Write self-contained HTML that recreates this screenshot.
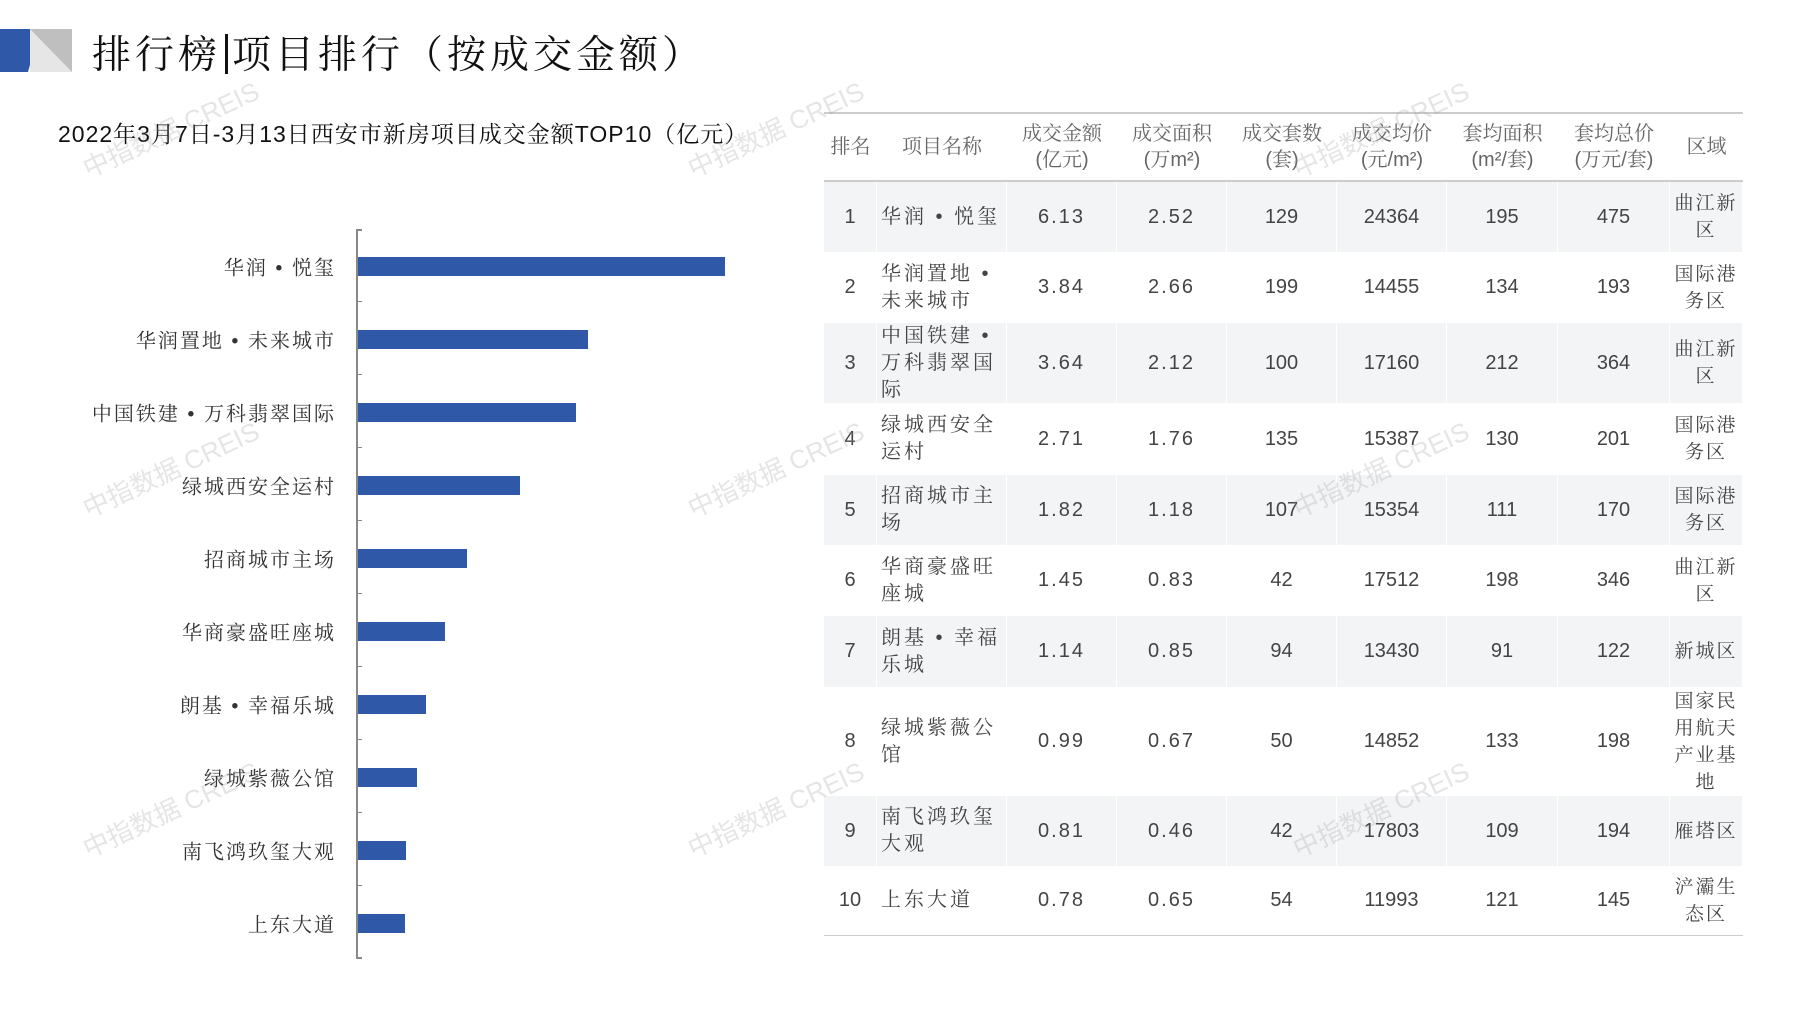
<!DOCTYPE html>
<html><head><meta charset="utf-8"><style>
body{margin:0;width:1797px;height:1010px;background:#fff;position:relative;overflow:hidden;font-family:"Liberation Sans","Noto Serif CJK SC","Noto Sans CJK SC",serif;}
.a{position:absolute}
.c{position:absolute;display:flex;align-items:center;justify-content:center;text-align:center;color:#444;font-size:20px;line-height:27px;box-sizing:border-box}
.h{color:#666;font-size:20px}
.lab{position:absolute;right:1461px;font-size:20px;color:#333;letter-spacing:2px;white-space:nowrap;transform:translateY(-50%)}
.bar{position:absolute;left:358px;height:19px;background:#2f58a8}
.wm{position:absolute;color:rgba(150,150,150,0.25);font-size:26px;transform:rotate(-25deg);white-space:nowrap;font-family:"Liberation Sans","Noto Sans CJK SC",sans-serif}
</style></head><body>
<svg class="a" style="left:0;top:29px" width="75" height="43"><polygon points="0,0 40,0 28,43 0,43" fill="#2f58a8"/><polygon points="30,0 72,0 72,43 45,43" fill="#bfbfbf"/><polygon points="30,0 72,43 30,43" fill="#e6e6e6"/></svg>
<div class="a" style="left:92px;top:24px;font-size:39px;color:#111;letter-spacing:4px;white-space:nowrap">排行榜<span style="display:inline-block;width:3px;height:40px;background:#111;vertical-align:-6px;margin:0 4px"></span>项目排行（按成交金额）</div>
<div class="a" style="left:58px;top:116px;font-size:23px;color:#111;white-space:nowrap;letter-spacing:1px">2022年3月7日-3月13日西安市新房项目成交金额TOP10（亿元）</div>

<div class="a" style="left:356px;top:229px;width:2px;height:730px;background:#888"></div>
<div class="a" style="left:356px;top:229px;width:6px;height:2px;background:#888"></div>
<div class="a" style="left:356px;top:957px;width:6px;height:2px;background:#888"></div>
<div class="bar" style="top:257px;width:367px"></div>
<div class="bar" style="top:330px;width:230px"></div>
<div class="bar" style="top:403px;width:218px"></div>
<div class="bar" style="top:476px;width:162px"></div>
<div class="bar" style="top:549px;width:109px"></div>
<div class="bar" style="top:622px;width:87px"></div>
<div class="bar" style="top:695px;width:68px"></div>
<div class="bar" style="top:768px;width:59px"></div>
<div class="bar" style="top:841px;width:48px"></div>
<div class="bar" style="top:914px;width:47px"></div>
<div class="lab" style="top:266px">华润 • 悦玺</div>
<div class="lab" style="top:339px">华润置地 • 未来城市</div>
<div class="lab" style="top:412px">中国铁建 • 万科翡翠国际</div>
<div class="lab" style="top:485px">绿城西安全运村</div>
<div class="lab" style="top:558px">招商城市主场</div>
<div class="lab" style="top:631px">华商豪盛旺座城</div>
<div class="lab" style="top:704px">朗基 • 幸福乐城</div>
<div class="lab" style="top:777px">绿城紫薇公馆</div>
<div class="lab" style="top:850px">南飞鸿玖玺大观</div>
<div class="lab" style="top:923px">上东大道</div>
<div class="a" style="left:356px;top:301px;width:6px;height:1px;background:#888;box-shadow:0 73px #888,0 146px #888,0 219px #888,0 292px #888,0 365px #888,0 438px #888,0 511px #888,0 584px #888"></div>

<div id="t"></div>
<script>
var cols=[824,877,1007,1117,1227,1337,1447,1558,1670,1743];
var rows=[182,252,323,403,475,545,616,687,796,866,935];
var H=["排名","项目名称","成交金额<br>(亿元)","成交面积<br>(万m²)","成交套数<br>(套)","成交均价<br>(元/m²)","套均面积<br>(m²/套)","套均总价<br>(万元/套)","区域"];
var D=[["1","华润 • 悦玺","6.13","2.52","129","24364","195","475","曲江新区"],
["2","华润置地 • 未来城市","3.84","2.66","199","14455","134","193","国际港务区"],
["3","中国铁建 • 万科翡翠国际","3.64","2.12","100","17160","212","364","曲江新区"],
["4","绿城西安全运村","2.71","1.76","135","15387","130","201","国际港务区"],
["5","招商城市主场","1.82","1.18","107","15354","111","170","国际港务区"],
["6","华商豪盛旺座城","1.45","0.83","42","17512","198","346","曲江新区"],
["7","朗基 • 幸福乐城","1.14","0.85","94","13430","91","122","新城区"],
["8","绿城紫薇公馆","0.99","0.67","50","14852","133","198","国家民用航天产业基地"],
["9","南飞鸿玖玺大观","0.81","0.46","42","17803","109","194","雁塔区"],
["10","上东大道","0.78","0.65","54","11993","121","145","浐灞生态区"]];
var s="";
s+='<div class="a" style="left:824px;top:112px;width:919px;height:2px;background:#ccc"></div>';
s+='<div class="a" style="left:824px;top:180px;width:919px;height:2px;background:#ccc"></div>';
s+='<div class="a" style="left:824px;top:934px;width:919px;height:2px;background:#ccc"></div>';
for(var j=0;j<9;j++){var l=cols[j],w=cols[j+1]-l;
s+='<div class="c h" style="left:'+l+'px;top:114px;width:'+w+'px;height:66px;line-height:26px">'+H[j]+'</div>';}
for(var i=0;i<10;i++){var t=rows[i],hh=rows[i+1]-t;
for(var j=0;j<9;j++){var l=cols[j],w=cols[j+1]-l;var bg=(i%2==0)?'#f3f4f6':'#fff';
var st='left:'+l+'px;top:'+t+'px;width:'+w+'px;height:'+hh+'px;background:'+bg+';border-right:1px solid #fff;';
if(j==1)st+='justify-content:flex-start;text-align:left;padding:0 2px 0 4px;letter-spacing:3px;word-break:break-all;';
if(j==8)st+='padding:0;letter-spacing:2px;font-size:19px;';
if(j>=2&&j<=3)st+='letter-spacing:2px;';
s+='<div class="c" style="'+st+'"><div style="width:100%">'+D[i][j]+'</div></div>';}}
document.getElementById('t').innerHTML=s;
</script>
<div class="wm" style="left:75px;top:110px">中指数据 CREIS</div>
<div class="wm" style="left:680px;top:110px">中指数据 CREIS</div>
<div class="wm" style="left:1285px;top:110px">中指数据 CREIS</div>
<div class="wm" style="left:75px;top:450px">中指数据 CREIS</div>
<div class="wm" style="left:680px;top:450px">中指数据 CREIS</div>
<div class="wm" style="left:1285px;top:450px">中指数据 CREIS</div>
<div class="wm" style="left:75px;top:790px">中指数据 CREIS</div>
<div class="wm" style="left:680px;top:790px">中指数据 CREIS</div>
<div class="wm" style="left:1285px;top:790px">中指数据 CREIS</div>
</body></html>
